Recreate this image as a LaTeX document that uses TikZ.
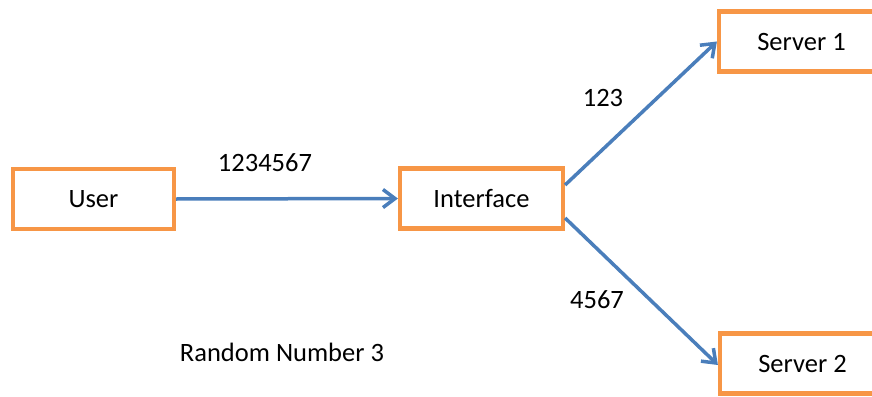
\documentclass[tikz,border=0pt]{standalone}
\usepackage{fontspec}
\setmainfont{Carlito}
\usetikzlibrary{arrows.meta}
\definecolor{boxorange}{HTML}{F79646}
\definecolor{linkblue}{HTML}{4A7EBB}
\begin{document}
\begin{tikzpicture}[x=1pt,y=-1pt,
  box/.style={draw=boxorange,line width=4.2pt,fill=white,inner sep=0pt,
    minimum height=60pt,text depth=-2pt,font=\fontsize{26.5}{30}\selectfont},
  link/.style={draw=linkblue,line width=3.5pt,
    -{Straight Barb[length=12pt,width=18pt,line width=3.5pt]}},
  lbl/.style={inner sep=0pt,font=\fontsize{26.5}{30}\selectfont}]
  \useasboundingbox (0,0) rectangle (872,396);
  % boxes
  \node[box,minimum width=161pt] (user)  at (93.5,199) {User};
  \node[box,minimum width=163pt] (iface) at (481.5,198.5) {Interface};
  \node[box,minimum width=165pt] (srv1)  at (801.5,41.5) {Server 1};
  \node[box,minimum width=165pt] (srv2)  at (802.5,363.5) {Server 2};
  % connectors
  \draw[link] (user.east) -- (iface.west);
  \draw[link] ([yshift=13.5pt]iface.east) -- (srv1.west);
  \draw[link] ([yshift=-19.5pt]iface.east) -- ([yshift=-1.5pt]srv2.west);
  % labels
  \node[lbl] (l1) at (265,163) {1234567};
  \node[lbl] (l2) at (603,98) {123};
  \node[lbl] (l3) at (597,300) {4567};
  \node[lbl] (l4) at (282,352) {Random Number 3};
\end{tikzpicture}
\end{document}
